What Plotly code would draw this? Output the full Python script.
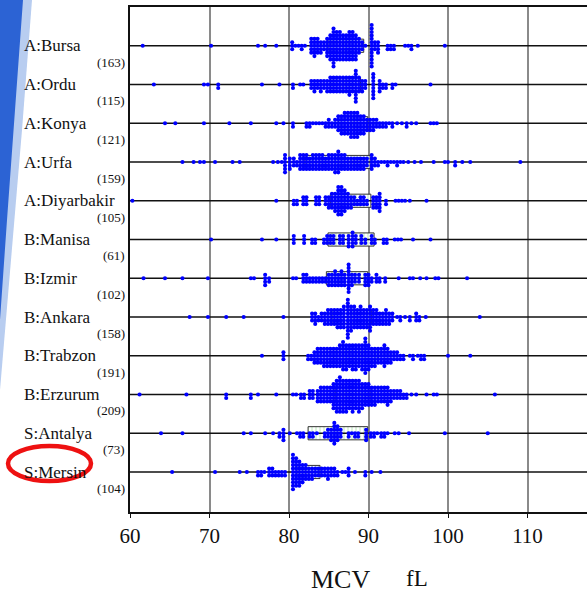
import plotly.graph_objects as go

# ---- data: MCV (fL) bin values and number of subjects in each bin ----
groups = ["A:Bursa", "A:Ordu", "A:Konya", "A:Urfa", "A:Diyarbakir", "B:Manisa",
          "B:Izmir", "B:Ankara", "B:Trabzon", "B:Erzurum", "S:Antalya", "S:Mersin"]

bursa_mcv = [61.6, 70.2, 76.1, 77.0, 78.4, 80.4, 80.8, 81.2, 81.6, 82.0, 82.8, 83.2, 83.6, 84.0,
             84.4, 84.8, 85.2, 85.6, 86.0, 86.4, 86.8, 87.2, 87.6, 88.0, 88.4, 88.8, 89.2, 89.6,
             90.4, 90.8, 91.2, 92.4, 92.8, 93.2, 94.6, 95.0, 95.4, 96.2, 99.6]
bursa_cnt = [1, 1, 1, 1, 1, 3, 1, 1, 2, 1, 5, 6, 5, 4,
             3, 6, 8, 12, 9, 9, 8, 8, 9, 9, 8, 5, 3, 1,
             13, 3, 4, 2, 2, 2, 1, 1, 2, 1, 1]

ordu_mcv = [63.0, 69.3, 69.8, 71.1, 76.6, 78.8, 80.5, 81.4, 81.8, 82.8, 83.2, 83.6, 84.0, 84.4,
            84.8, 85.2, 85.6, 86.0, 86.4, 86.8, 87.2, 87.6, 88.0, 88.4, 88.8, 89.2, 89.6,
            90.6, 91.4, 91.8, 92.2, 93.0, 93.4, 97.8]
ordu_cnt = [1, 1, 1, 2, 1, 1, 2, 1, 1, 3, 4, 3, 4, 3,
            4, 5, 5, 5, 5, 5, 5, 6, 5, 10, 5, 4, 3,
            8, 4, 2, 2, 2, 1, 1]

konya_mcv = [64.4, 65.7, 69.3, 72.5, 75.2, 78.4, 79.3, 80.5, 82.2, 82.6, 83.0, 83.4, 83.8, 84.2,
             84.6, 85.0, 85.4, 85.8, 86.2, 86.6, 87.0, 87.4, 87.8, 88.2, 88.6, 89.0, 89.4, 89.8,
             90.2, 90.6, 91.0, 91.4, 91.8, 92.2, 92.6, 93.0, 93.6, 94.2, 94.8, 95.4, 96.0,
             97.8, 98.2, 98.6]
konya_cnt = [1, 1, 1, 1, 1, 1, 1, 2, 2, 2, 1, 1, 1, 1,
             2, 3, 2, 3, 5, 6, 7, 7, 8, 8, 8, 6, 6, 4,
             4, 4, 3, 2, 2, 2, 1, 2, 1, 1, 2, 1, 1,
             1, 1, 1]

urfa_mcv = [66.6, 68.0, 68.8, 69.3, 70.7, 72.9, 73.8, 78.0, 78.6, 79.1, 79.5, 80.1, 80.6, 81.0,
            81.4, 81.8, 82.2, 82.6, 83.0, 83.4, 83.8, 84.2, 84.6, 85.0, 85.4, 85.8, 86.2, 86.6,
            87.0, 87.4, 87.8, 88.2, 88.6, 89.0, 89.4, 89.8, 90.4, 90.8, 91.2, 91.6, 92.0, 92.4,
            92.8, 93.2, 93.6, 94.0, 94.4, 95.0, 95.8, 96.6, 98.2, 99.6, 100.0, 100.9, 101.8,
            102.8, 109.1]
urfa_cnt = [1, 1, 1, 1, 1, 1, 1, 1, 1, 1, 6, 4, 3, 2,
            5, 5, 5, 4, 5, 5, 5, 5, 4, 5, 5, 6, 7, 5,
            5, 4, 4, 4, 4, 4, 4, 3, 5, 3, 2, 1, 1, 2,
            1, 1, 2, 1, 1, 1, 1, 1, 1, 1, 1, 2, 1,
            1, 1]

diyarbakir_mcv = [60.3, 78.4, 80.6, 81.0, 81.8, 82.2, 83.4, 83.8, 84.6, 85.0, 85.4, 85.8, 86.2,
                  86.6, 87.0, 87.4, 87.8, 88.2, 88.6, 89.0, 89.4, 89.8, 90.6, 91.0, 91.4, 92.2,
                  93.4, 93.8, 94.2, 94.6, 95.2, 97.3]
diyarbakir_cnt = [1, 1, 2, 2, 3, 3, 3, 3, 3, 4, 5, 6, 9,
                  9, 7, 5, 4, 3, 2, 3, 3, 2, 4, 4, 6, 2,
                  1, 1, 1, 1, 1, 1]

manisa_mcv = [70.2, 76.6, 78.4, 80.6, 81.9, 82.9, 83.3, 84.4, 84.8, 85.2, 85.6, 86.4, 86.8,
              87.5, 88.0, 88.4, 89.1, 89.6, 90.4, 90.8, 91.9, 92.3, 93.3, 93.7, 94.1, 95.6, 97.8]
manisa_cnt = [1, 1, 1, 3, 3, 2, 2, 2, 3, 3, 3, 3, 3,
              4, 5, 3, 3, 2, 3, 2, 2, 2, 1, 1, 1, 1, 1]

izmir_mcv = [61.7, 64.4, 66.6, 69.8, 75.2, 75.6, 77.0, 77.5, 80.5, 80.9, 81.8, 82.2, 82.6, 83.0,
             83.4, 83.8, 84.2, 84.6, 85.0, 85.4, 85.8, 86.2, 86.6, 87.0, 87.5, 87.9, 88.3, 88.8,
             89.6, 90.0, 90.4, 91.0, 91.4, 92.1, 93.8, 95.2, 95.6, 96.5, 97.3, 98.4, 98.8, 102.4]
izmir_cnt = [1, 1, 1, 1, 1, 1, 4, 2, 1, 1, 3, 3, 2, 2,
             2, 2, 2, 2, 4, 4, 5, 4, 5, 4, 9, 4, 3, 3,
             4, 4, 2, 3, 2, 2, 1, 1, 1, 1, 1, 1, 1, 1]

ankara_mcv = [67.5, 69.8, 72.1, 74.3, 79.3, 82.9, 83.3, 83.7, 84.1, 84.5, 84.9, 85.3, 85.7, 86.1,
              86.5, 86.9, 87.4, 87.8, 88.2, 88.6, 89.0, 89.4, 89.8, 90.2, 90.6, 91.0, 91.4, 91.8,
              92.2, 92.6, 93.0, 93.6, 94.0, 94.6, 95.2, 96.0, 96.4, 97.2, 104.0]
ankara_cnt = [1, 1, 1, 1, 1, 3, 4, 2, 3, 4, 5, 5, 5, 6,
              6, 7, 12, 8, 7, 6, 7, 6, 6, 8, 5, 5, 4, 4,
              5, 4, 3, 1, 2, 1, 2, 3, 2, 1, 1]

trabzon_mcv = [76.6, 79.3, 82.4, 82.8, 83.2, 83.6, 84.0, 84.4, 84.8, 85.2, 85.6, 86.0, 86.4, 86.8,
               87.2, 87.6, 88.0, 88.4, 88.8, 89.2, 89.6, 90.0, 90.4, 90.8, 91.2, 91.6, 92.0, 92.4,
               92.8, 93.2, 93.6, 94.0, 94.4, 95.2, 95.6, 96.2, 96.6, 97.0, 100.0, 102.8]
trabzon_cnt = [1, 3, 2, 2, 4, 5, 5, 6, 6, 6, 6, 6, 7, 9,
               8, 7, 8, 8, 7, 8, 11, 8, 6, 6, 5, 5, 7, 5,
               4, 3, 3, 2, 2, 1, 2, 1, 2, 2, 1, 1]

erzurum_mcv = [61.2, 67.1, 72.1, 75.2, 76.1, 78.4, 80.5, 80.9, 81.5, 81.9, 82.6, 83.0, 83.6, 84.0,
               84.4, 84.8, 85.2, 85.6, 86.0, 86.4, 86.8, 87.2, 87.6, 88.0, 88.4, 88.8, 89.2, 89.6,
               90.0, 90.4, 90.8, 91.2, 91.6, 92.0, 92.4, 92.8, 93.2, 93.6, 94.0, 94.4, 94.8, 95.4,
               96.0, 97.3, 98.2, 98.6, 105.9]
erzurum_cnt = [1, 1, 2, 2, 1, 1, 1, 1, 2, 2, 3, 3, 4, 5,
               5, 5, 5, 8, 10, 11, 10, 10, 9, 10, 9, 10, 8, 7,
               7, 6, 6, 5, 5, 5, 6, 4, 3, 3, 3, 2, 2, 1,
               1, 1, 1, 1, 1]

antalya_mcv = [63.9, 66.6, 74.3, 75.2, 77.0, 78.0, 78.8, 79.3, 80.1, 81.0, 81.4, 81.8, 82.6, 83.0,
               83.5, 84.5, 84.9, 85.3, 85.7, 86.1, 86.5, 87.5, 87.9, 88.3, 88.7, 89.7, 90.3, 90.7,
               91.1, 91.6, 92.0, 92.4, 93.3, 93.8, 95.1, 99.6, 105.0]
antalya_cnt = [1, 1, 1, 1, 1, 1, 2, 4, 1, 1, 2, 2, 2, 2,
               1, 2, 3, 4, 7, 5, 3, 2, 1, 2, 2, 4, 2, 2,
               1, 2, 2, 1, 1, 1, 1, 1, 1]

mersin_mcv = [65.3, 70.7, 73.8, 74.7, 76.1, 76.5, 76.9, 77.5, 77.9, 78.3, 78.7, 79.1, 79.5, 80.5,
              80.9, 81.3, 81.7, 82.1, 82.5, 82.9, 83.3, 83.7, 84.1, 84.5, 84.9, 85.3, 85.7, 86.1,
              86.7, 87.1, 87.5, 88.3, 89.6, 90.4, 91.5]
mersin_cnt = [1, 1, 1, 1, 2, 2, 1, 3, 3, 2, 2, 2, 2, 11,
              9, 8, 6, 5, 4, 4, 3, 3, 3, 3, 4, 3, 3, 2,
              1, 1, 3, 1, 2, 1, 1]

# interquartile boxes (fL)
box_q1 = [84.9, 85.2, 86.2, 82.0, 85.2, 84.9, 84.7, 85.4, 85.6, 85.8, 82.4, 81.0]
box_q3 = [89.4, 89.0, 89.9, 90.2, 90.3, 90.7, 89.9, 90.4, 91.2, 90.2, 89.9, 83.9]

x_ticks = [60, 70, 80, 90, 100, 110]

series = [
    (bursa_mcv, bursa_cnt), (ordu_mcv, ordu_cnt), (konya_mcv, konya_cnt),
    (urfa_mcv, urfa_cnt), (diyarbakir_mcv, diyarbakir_cnt), (manisa_mcv, manisa_cnt),
    (izmir_mcv, izmir_cnt), (ankara_mcv, ankara_cnt), (trabzon_mcv, trabzon_cnt),
    (erzurum_mcv, erzurum_cnt), (antalya_mcv, antalya_cnt), (mersin_mcv, mersin_cnt),
]

# ---- geometry of the figure ----
W, H = 587, 594
L, T, B = 130, 7, 82
plot_w = W - L
plot_h = H - T - B
X_MIN = 60.0
PX_PER_FL = 7.95
X_MAX = X_MIN + plot_w / PX_PER_FL
ROW_PX = 38.75
Y_TOP = -1.0
Y_BOT = Y_TOP + plot_h / ROW_PX
STACK = 3.45 / ROW_PX     # vertical spacing of stacked dots
BOX_HALF = 0.17

SERIF = "Liberation Serif, Times New Roman, serif"


def px_x(px):
    return (px - L) / plot_w


def px_y(py):
    return (H - B - py) / plot_h


fig = go.Figure()

# interquartile boxes
for i, (q1, q3) in enumerate(zip(box_q1, box_q3)):
    fig.add_trace(go.Scatter(
        x=[q1, q3, q3, q1, q1],
        y=[i - BOX_HALF, i - BOX_HALF, i + BOX_HALF, i + BOX_HALF, i - BOX_HALF],
        mode="lines", fill="toself",
        fillcolor="#e6f7e6",
        fillpattern=dict(shape="|", fgcolor="#9ee09e", bgcolor="#ffffff", size=4, solidity=0.35),
        line=dict(color="#333333", width=1),
        hoverinfo="skip", showlegend=False,
    ))

# horizontal reference line for each group
for i in range(len(groups)):
    fig.add_trace(go.Scatter(
        x=[X_MIN, X_MAX], y=[i, i], mode="lines",
        line=dict(color="#111111", width=1.4),
        hoverinfo="skip", showlegend=False,
    ))

# stacked dots: each bin is a column centred on its group's line
for i, (vals, cnts) in enumerate(series):
    xs, ys = [], []
    for v, c in zip(vals, cnts):
        for j in range(c):
            k = (j + 1) // 2
            off = k if j % 2 == 1 else -k
            xs.append(v)
            ys.append(i + off * STACK)
    fig.add_trace(go.Scatter(
        x=xs, y=ys, mode="markers",
        marker=dict(size=4.1, color="#0000ff", line=dict(width=0)),
        name=groups[i], showlegend=False,
    ))

annotations = []
for i, (name, (vals, cnts)) in enumerate(zip(groups, series)):
    annotations.append(dict(
        x=px_x(22), y=i, xref="paper", yref="y", text=name, showarrow=False,
        xanchor="left", yanchor="middle",
        font=dict(family=SERIF, size=17, color="#111111"),
    ))
    annotations.append(dict(
        x=px_x(127), y=i + 0.42, xref="paper", yref="y", text=f"({sum(cnts)})",
        showarrow=False, xanchor="right", yanchor="middle",
        font=dict(family=SERIF, size=13, color="#111111"),
    ))

annotations.append(dict(
    x=px_x(340), y=px_y(579), xref="paper", yref="paper", text="MCV", showarrow=False,
    xanchor="center", yanchor="middle", font=dict(family=SERIF, size=26, color="#111111"),
))
annotations.append(dict(
    x=px_x(417), y=px_y(578), xref="paper", yref="paper", text="fL", showarrow=False,
    xanchor="center", yanchor="middle", font=dict(family=SERIF, size=23, color="#111111"),
))

shapes = [
    # blue band at the left edge
    dict(type="path", xref="paper", yref="paper",
         path=f"M {px_x(0)},{px_y(0)} L {px_x(32)},{px_y(0)} L {px_x(22)},{px_y(130)} "
              f"L {px_x(11)},{px_y(260)} L {px_x(0)},{px_y(390)} Z",
         fillcolor="#b8cdf0", line=dict(width=0), layer="below"),
    dict(type="path", xref="paper", yref="paper",
         path=f"M {px_x(0)},{px_y(0)} L {px_x(23)},{px_y(0)} L {px_x(15)},{px_y(110)} "
              f"L {px_x(7)},{px_y(220)} L {px_x(0)},{px_y(320)} Z",
         fillcolor="#2c63d4", line=dict(width=0), layer="below"),
    # red ellipse highlighting one group label
    dict(type="circle", xref="paper", yref="paper",
         x0=px_x(8), x1=px_x(91), y0=px_y(481), y1=px_y(446),
         line=dict(color="#ee1111", width=4.5)),
]

fig.update_layout(
    width=W, height=H,
    margin=dict(l=L, r=0, t=T, b=B),
    paper_bgcolor="white", plot_bgcolor="white",
    showlegend=False,
    annotations=annotations,
    shapes=shapes,
    xaxis=dict(
        range=[X_MIN, X_MAX], tickvals=x_ticks, ticktext=[str(t) for t in x_ticks],
        showgrid=True, gridcolor="#8a8a8a", gridwidth=1.6, zeroline=False,
        showline=True, linecolor="#111111", linewidth=1.5, mirror=True,
        ticks="outside", ticklen=4, tickcolor="#111111",
        tickfont=dict(family=SERIF, size=21, color="#111111"),
    ),
    yaxis=dict(
        range=[Y_BOT, Y_TOP], showgrid=False, zeroline=False,
        showticklabels=False, ticks="",
        showline=True, linecolor="#111111", linewidth=1.5,
    ),
)

fig.write_html("out.html")
